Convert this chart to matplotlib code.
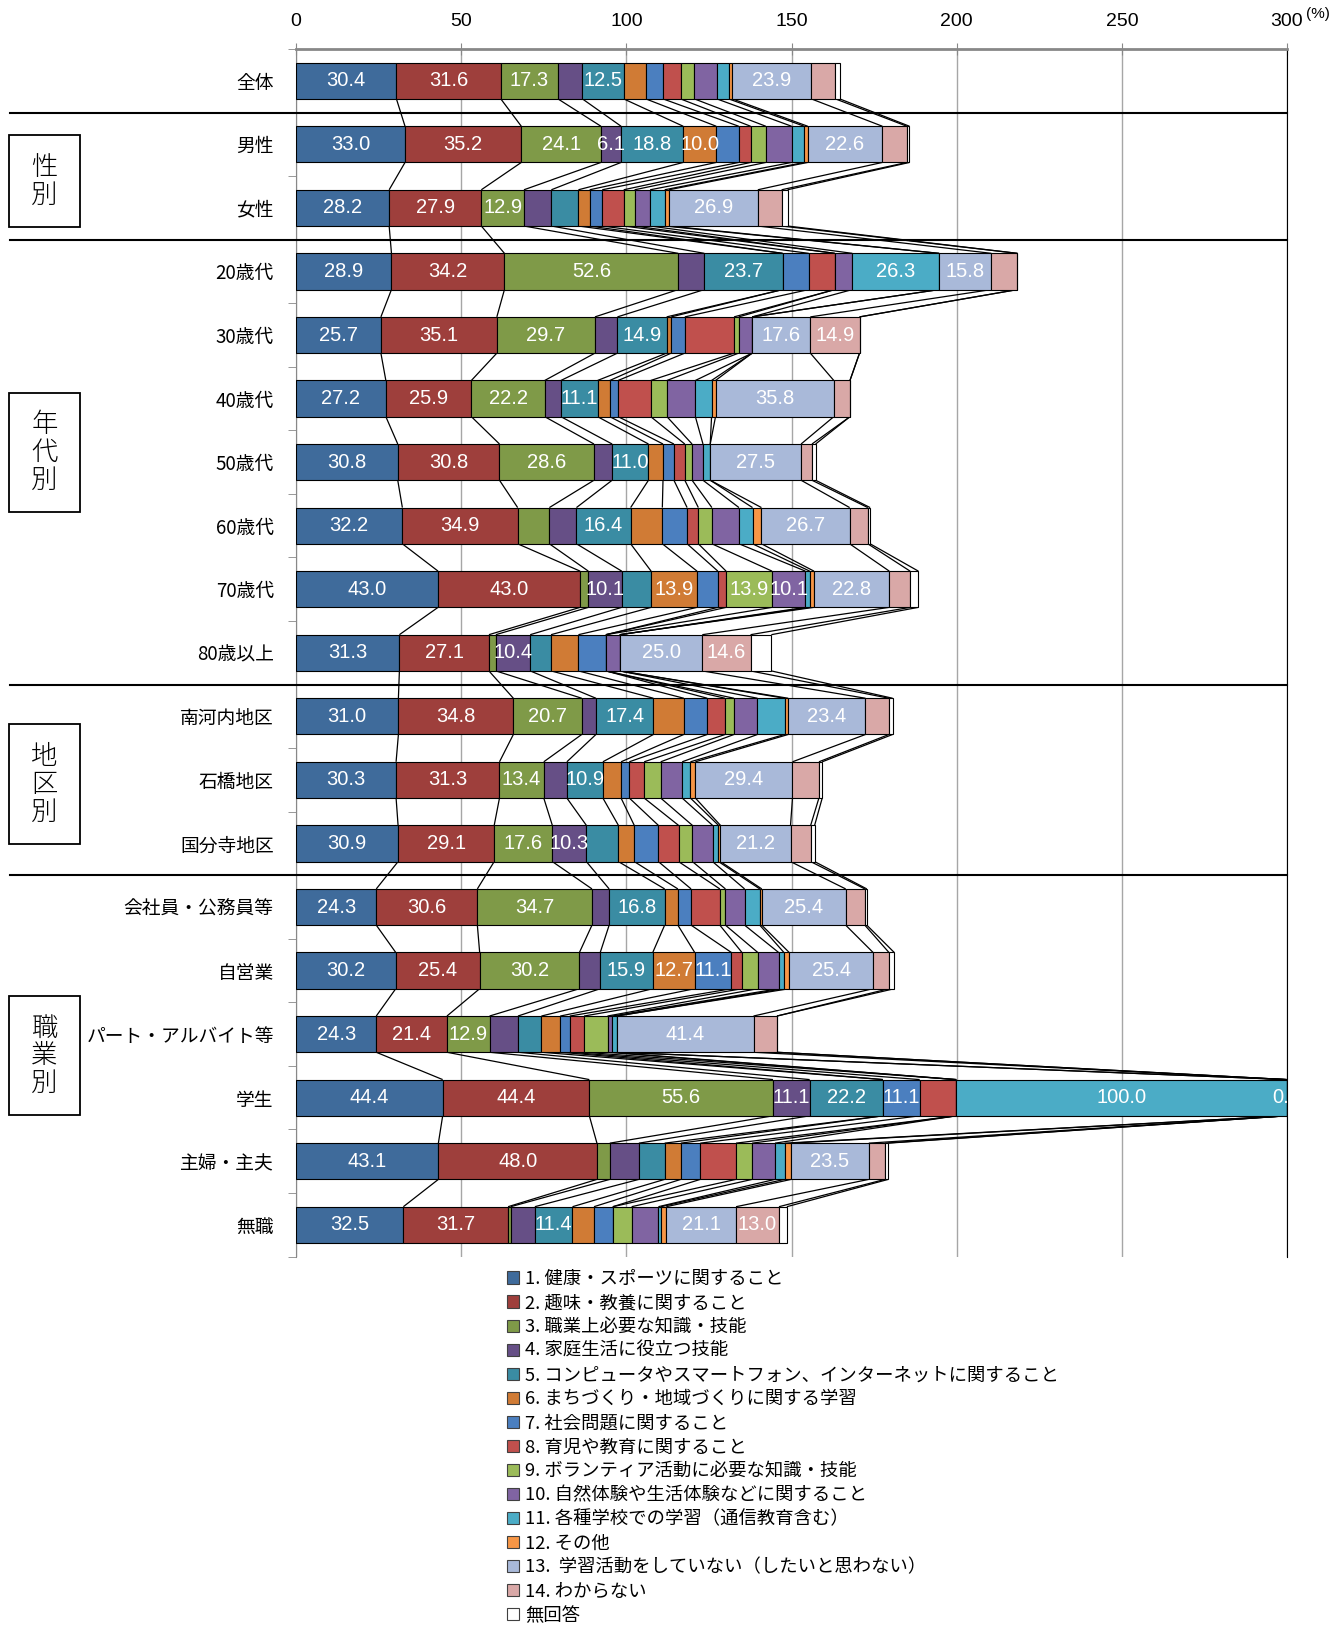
import numpy as np
import matplotlib.pyplot as plt
from matplotlib.patches import Patch, Rectangle
from matplotlib.collections import LineCollection

plt.rcParams['font.family'] = ['Noto Sans CJK JP', 'DejaVu Sans']
num_font = ['Liberation Sans Narrow', 'Liberation Sans', 'DejaVu Sans']

# Row labels (top to bottom)
rows = ['全体', '男性', '女性', '20歳代', '30歳代', '40歳代', '50歳代', '60歳代',
        '70歳代', '80歳以上', '南河内地区', '石橋地区', '国分寺地区',
        '会社員・公務員等', '自営業', 'パート・アルバイト等', '学生', '主婦・主夫', '無職']

# Series values (%), one list per answer, in row order
health    = [30.4, 33.0, 28.2, 28.9, 25.7, 27.2, 30.8, 32.2, 43.0, 31.3, 31.0, 30.3, 30.9, 24.3, 30.2, 24.3, 44.4, 43.1, 32.5]
hobby     = [31.6, 35.2, 27.9, 34.2, 35.1, 25.9, 30.8, 34.9, 43.0, 27.1, 34.8, 31.3, 29.1, 30.6, 25.4, 21.4, 44.4, 48.0, 31.7]
job       = [17.3, 24.1, 12.9, 52.6, 29.7, 22.2, 28.6, 9.6, 2.5, 2.1, 20.7, 13.4, 17.6, 34.7, 30.2, 12.9, 55.6, 3.9, 0.8]
home      = [7.4, 6.1, 8.3, 7.9, 6.8, 4.9, 5.5, 8.2, 10.1, 10.4, 4.3, 7.0, 10.3, 5.2, 6.3, 8.6, 11.1, 8.8, 7.3]
computer  = [12.5, 18.8, 8.2, 23.7, 14.9, 11.1, 11.0, 16.4, 8.9, 6.3, 17.4, 10.9, 9.7, 16.8, 15.9, 7.1, 22.2, 7.8, 11.4]
town      = [6.7, 10.0, 3.4, 0.0, 1.4, 3.7, 4.4, 9.6, 13.9, 8.3, 9.2, 5.5, 4.8, 4.0, 12.7, 5.7, 0.0, 4.9, 6.5]
social    = [5.2, 6.8, 3.8, 7.9, 4.1, 2.5, 3.3, 7.5, 6.3, 8.3, 7.1, 2.5, 7.3, 4.0, 11.1, 2.9, 11.1, 5.9, 5.7]
childcare = [5.3, 3.6, 6.5, 7.9, 14.9, 9.9, 3.3, 3.4, 2.5, 0.0, 5.4, 4.5, 6.1, 8.7, 3.2, 4.3, 11.1, 10.8, 0.0]
volunteer = [4.2, 4.6, 3.3, 0.0, 1.4, 4.9, 2.2, 4.1, 13.9, 0.0, 2.7, 5.0, 4.2, 1.7, 4.8, 7.1, 0.0, 4.9, 5.7]
nature    = [6.8, 7.8, 4.7, 5.3, 4.1, 8.6, 3.3, 8.2, 10.1, 4.2, 7.1, 6.5, 6.1, 5.8, 6.3, 1.4, 0.0, 6.9, 8.1]
school    = [3.6, 3.8, 4.4, 26.3, 0.0, 4.9, 2.2, 4.1, 1.3, 0.0, 8.2, 2.5, 1.8, 4.6, 1.6, 1.4, 100.0, 2.9, 0.8]
other     = [1.1, 1.1, 1.3, 0.0, 0.0, 1.2, 0.0, 2.7, 1.3, 0.0, 1.1, 1.5, 0.6, 0.6, 1.6, 0.0, 0.0, 2.0, 1.6]
no_study  = [23.9, 22.6, 26.9, 15.8, 17.6, 35.8, 27.5, 26.7, 22.8, 25.0, 23.4, 29.4, 21.2, 25.4, 25.4, 41.4, 0.0, 23.5, 21.1]
unknown   = [7.3, 7.4, 7.2, 7.9, 14.9, 4.9, 3.3, 5.5, 6.3, 14.6, 7.1, 8.0, 6.1, 5.8, 4.8, 7.1, 0.0, 4.9, 13.0]
no_answer = [1.3, 0.8, 1.8, 0.0, 0.0, 0.0, 1.1, 0.7, 2.5, 6.3, 1.1, 1.0, 1.2, 0.6, 1.6, 0.0, 0.0, 1.0, 2.4]

series = [health, hobby, job, home, computer, town, social, childcare, volunteer,
          nature, school, other, no_study, unknown, no_answer]

legend_labels = ['1. 健康・スポーツに関すること', '2. 趣味・教養に関すること',
                 '3. 職業上必要な知識・技能', '4. 家庭生活に役立つ技能',
                 '5. コンピュータやスマートフォン、インターネットに関すること',
                 '6. まちづくり・地域づくりに関する学習', '7. 社会問題に関すること',
                 '8. 育児や教育に関すること', '9. ボランティア活動に必要な知識・技能',
                 '10. 自然体験や生活体験などに関すること', '11. 各種学校での学習（通信教育含む）',
                 '12. その他', '13.  学習活動をしていない（したいと思わない）',
                 '14. わからない', '無回答']

colors = ['#3F6B9B', '#9E3F3C', '#7F9A48', '#664F86', '#3A8CA3', '#D07B35',
          '#4B7FBF', '#C0504D', '#9BBB59', '#8064A2', '#4BACC6', '#F79646',
          '#A9B9D9', '#D9A8A7', '#FFFFFF']

# extra labels shown below 10 (row, series)
extra_labels = [(1, 3), (16, 11)]

groups = [('性\n別', 134.7, 227.0), ('年\n代\n別', 392.7, 511.9),
          ('地\n区\n別', 724.4, 843.5), ('職\n業\n別', 995.9, 1115.0)]
separators = [0.5, 2.5, 9.5, 12.5]

W, H = 1344, 1625
fig = plt.figure(figsize=(W / 100, H / 100), dpi=100)
ax = fig.add_axes([296 / W, 1 - 1256.6 / H, 991 / W, (1256.6 - 49) / H])

data = np.array(series)          # (15, 19)
cum = np.cumsum(data, axis=0)
y = np.arange(len(rows))
bar_h = 0.57

for j, vals in enumerate(data):
    left = cum[j] - vals
    ax.barh(y, vals, left=left, height=bar_h, color=colors[j],
            edgecolor='black', linewidth=0.8, zorder=3)
    for i, v in enumerate(vals):
        if (v >= 10 and j != 7) or (i, j) in extra_labels:
            ax.text(left[i] + v / 2, i, f'{v:.1f}', ha='center', va='center',
                    color='white', fontsize=14.5, family=num_font, zorder=4)

# series lines between neighbouring bars
segs = []
for j in range(len(series)):
    for i in range(len(rows) - 1):
        segs.append([(cum[j, i], i + bar_h / 2), (cum[j, i + 1], i + 1 - bar_h / 2)])
ax.add_collection(LineCollection(segs, colors='black', linewidths=0.9, zorder=2))

ax.set_xlim(0, 300)
ax.set_ylim(len(rows) - 0.5, -0.5)
ax.xaxis.tick_top()
ax.set_xticks(range(0, 301, 50))
ax.set_xticklabels([str(t) for t in range(0, 301, 50)], family=num_font, fontsize=14)
ax.tick_params(axis='x', direction='inout', length=8, color='#888888', pad=10)
ax.set_yticks(y)
ax.set_yticklabels(rows, fontsize=13.5)
ax.tick_params(axis='y', length=0, pad=16)
ax.set_yticks(np.arange(-0.5, len(rows), 1), minor=True)
ax.tick_params(axis='y', which='minor', length=6, color='#888888', direction='out')
ax.grid(axis='x', color='#A6A6A6', linewidth=1)
ax.set_axisbelow(True)

ax.spines['top'].set_color('#888888')
ax.spines['top'].set_linewidth(2)
ax.spines['left'].set_color('#888888')
ax.spines['right'].set_color('black')
ax.spines['bottom'].set_visible(False)

fig.text(1306 / W, 1 - 14 / H, '(%)', fontsize=11, family=num_font, ha='left', va='center')

# group separators
for s in separators:
    ax.plot([-(296 - 10) / 991, 1.0], [s, s], color='black', linewidth=1.5,
            transform=ax.get_yaxis_transform(), clip_on=False, zorder=5)

# group boxes
for text, top, bottom in groups:
    fig.add_artist(Rectangle((9.3 / W, 1 - bottom / H), 70.5 / W, (bottom - top) / H,
                             transform=fig.transFigure, fill=False,
                             edgecolor='black', linewidth=1.3))
    fig.text(44.5 / W, 1 - (top + bottom) / 2 / H, text, ha='center', va='center',
             fontsize=19, linespacing=1.0, fontweight='light')

handles = [Patch(facecolor=c, edgecolor='#404040', linewidth=0.8) for c in colors]
fig.legend(handles, legend_labels, loc='upper left',
           bbox_to_anchor=(507 / W, 1 - 1270 / H), frameon=False, fontsize=13.2,
           handlelength=0.65, handleheight=0.65, handletextpad=0.35,
           labelspacing=0.33, borderpad=0, borderaxespad=0)

fig.savefig('out.png', dpi=100)
